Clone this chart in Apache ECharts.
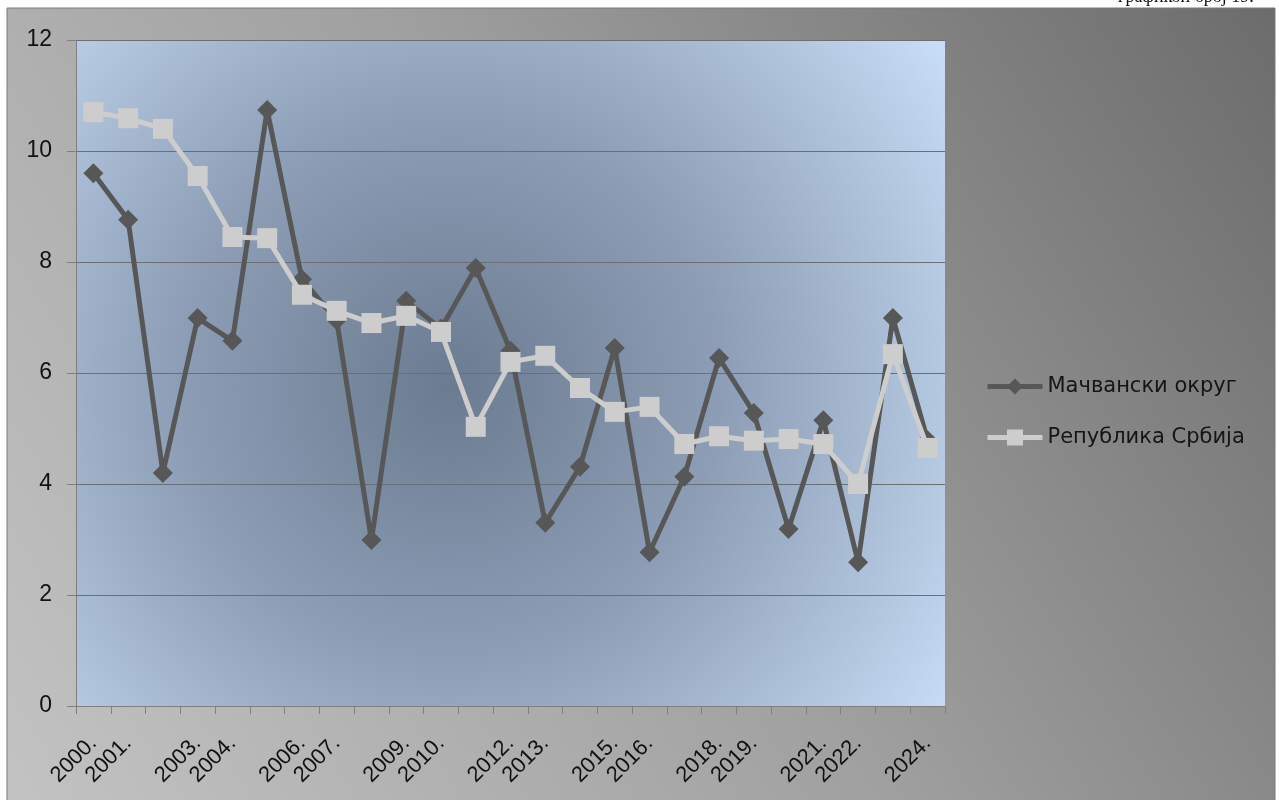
<!DOCTYPE html>
<html><head><meta charset="utf-8">
<script src="https://cdn.jsdelivr.net/npm/echarts@6/dist/echarts.min.js"></script>
<style>html,body{margin:0;padding:0;background:#fff;}#c{width:1279px;height:800px;}</style>
</head><body><div id="c"></div>
<script>
const categories = ['2000.','2001.','2002.','2003.','2004.','2005.','2006.','2007.','2008.','2009.','2010.','2011.','2012.','2013.','2014.','2015.','2016.','2017.','2018.','2019.','2020.','2021.','2022.','2023.','2024.'];
const macvanski = [9.60,8.76,4.20,6.99,6.58,10.74,7.69,6.95,2.99,7.30,6.80,7.89,6.40,3.30,4.31,6.45,2.77,4.13,6.27,5.28,3.19,5.15,2.59,6.99,4.79];
const srbija = [10.70,10.59,10.40,9.55,8.45,8.43,7.41,7.12,6.90,7.03,6.74,5.03,6.20,6.31,5.73,5.30,5.39,4.72,4.86,4.78,4.81,4.72,4.00,6.34,4.65];
const yTicks = [0,2,4,6,8,10,12];
const seriesNames = ['Мачвански округ','Република Србија'];
const caption = 'графикон број 19.';

const chart = echarts.init(document.getElementById('c'));
const font = 'Liberation Sans';
chart.setOption({
  backgroundColor: '#ffffff',
  animation: false,
  graphic: [
    {type:'rect', z:-10, silent:true, shape:{x:7,y:8,width:1268,height:800},
     style:{stroke:'#7a7a7a', lineWidth:1,
       fill:new echarts.graphic.LinearGradient(0,1,1,0,[
         {offset:0,color:'#c3c3c3'},{offset:0.5,color:'#a0a0a0'},{offset:1,color:'#6c6c6c'}])}},
    {type:'text', z:10, silent:true, left:1118, top:-12,
     style:{text:caption, font:'18px "Liberation Serif"', fill:'#111'}}
  ],
  grid: {left:76, top:40, right:334, bottom:94, show:true, borderWidth:0,
    backgroundColor: new echarts.graphic.RadialGradient(0.43,0.52,0.9,[
      {offset:0,color:'#6b7b91'},{offset:0.45,color:'#8c9db5'},{offset:1,color:'#c8ddf6'}])},
  legend: {
    orient:'vertical', left:980, top:371, itemGap:30, itemWidth:55, itemHeight:20,
    lineStyle:{width:5},
    textStyle:{fontFamily:'DejaVu Sans', fontSize:21, color:'#151515'},
    data: seriesNames
  },
  xAxis: {
    type:'category', data:categories, boundaryGap:true,
    axisLine:{lineStyle:{color:'#7f7f7f', width:1}},
    axisTick:{show:true, interval:0, length:8, lineStyle:{color:'#7f7f7f'}},
    axisLabel:{interval:function(i){return i%3!==2;}, rotate:45, margin:34,
      fontFamily:font, fontSize:22, color:'#111'}
  },
  yAxis: {
    type:'value', min:0, max:12, interval:2,
    axisLine:{show:true, lineStyle:{color:'#7f7f7f', width:1}},
    axisTick:{show:true, length:9, lineStyle:{color:'#7f7f7f'}},
    axisLabel:{margin:24, fontFamily:font, fontSize:23, color:'#111',
      formatter:function(v){return yTicks.indexOf(v)>=0?String(v):'';}},
    splitLine:{show:true, lineStyle:{color:'#6a6e75', width:1}}
  },
  series: [
    {name:seriesNames[0], type:'line', data:macvanski, symbol:'diamond', symbolSize:20,
     itemStyle:{color:'#575757'}, lineStyle:{color:'#575757', width:5}, z:2},
    {name:seriesNames[1], type:'line', data:srbija, symbol:'rect', symbolSize:20,
     itemStyle:{color:'#cdcdcd'}, lineStyle:{color:'#cdcdcd', width:5}, z:3}
  ]
});
</script></body></html>
